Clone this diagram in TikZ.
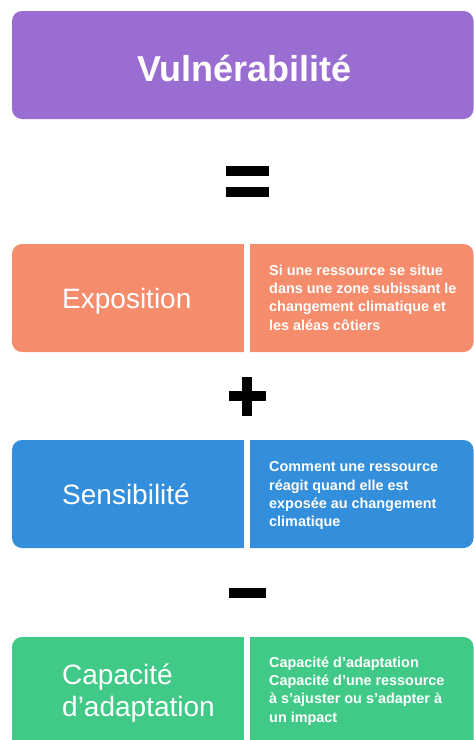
\documentclass[tikz,border=0pt]{standalone}
\usepackage{fontspec}
\setmainfont{Liberation Sans}
\definecolor{cpurple}{HTML}{9A6DD3}
\definecolor{corange}{HTML}{F58C6C}
\definecolor{cblue}{HTML}{338EDB}
\definecolor{cgreen}{HTML}{41C987}
\tikzset{
  panel/.style={rounded corners=10pt},
  gapbar/.style={fill=white},
  sym/.style={fill=black},
  title/.style={text=white,font=\fontsize{36}{40}\selectfont\bfseries,inner sep=0pt},
  leftlab/.style={text=white,font=\fontsize{28}{32}\selectfont,inner sep=0pt,anchor=base west},
  desc/.style={text=white,font=\fontsize{14.4}{18}\selectfont\bfseries,inner sep=0pt,anchor=base west}
}
\begin{document}
\begin{tikzpicture}[x=1pt,y=-1pt]
\useasboundingbox (0,0) rectangle (474,740);
\clip (0,0) rectangle (474,740);
% title
\fill[cpurple,panel] (12,11) rectangle (473.5,119);
\node[title,anchor=base] (ttl) at (244.5,81.5) {Vulnérabilité};
% equals
\fill[sym] (225.5,165.5) rectangle (269,176);
\fill[sym] (225.5,186.5) rectangle (269,197);
% row 1
\fill[corange,panel] (12,244) rectangle (473.5,352);
\fill[gapbar] (244,240) rectangle (250,356);
\node[leftlab] (expo) at (62,308) {Exposition};
\node[desc] (e1) at (269,275) {Si une ressource se situe};
\node[desc] (e2) at (269,293.3) {dans une zone subissant le};
\node[desc] (e3) at (269,311.6) {changement climatique et};
\node[desc] (e4) at (269,330) {les aléas côtiers};
% plus
\fill[sym] (242.3,376.7) rectangle (252.3,416);
\fill[sym] (229,391) rectangle (265.7,400.7);
% row 2
\fill[cblue,panel] (12,440) rectangle (473.5,548);
\fill[gapbar] (244,436) rectangle (250,552);
\node[leftlab] (sens) at (62,504) {Sensibilité};
\node[desc] (s1) at (269,471.7) {Comment une ressource};
\node[desc] (s2) at (269,490) {réagit quand elle est};
\node[desc] (s3) at (269,508.3) {exposée au changement};
\node[desc] (s4) at (269,526.6) {climatique};
% minus
\fill[sym] (229,588) rectangle (265.7,597.7);
% row 3
\fill[cgreen,panel] (12,637) rectangle (473.5,750);
\fill[gapbar] (244,633) rectangle (250,754);
\node[leftlab] (cap1) at (62,684.5) {Capacité};
\node[leftlab] (cap2) at (62,716) {d’adaptation};
\node[desc] (c1) at (269,667.3) {Capacité d’adaptation};
\node[desc] (c2) at (269,685.6) {Capacité d’une ressource};
\node[desc] (c3) at (269,703.9) {à s’ajuster ou s’adapter à};
\node[desc] (c4) at (269,722.2) {un impact};
\end{tikzpicture}
\end{document}
